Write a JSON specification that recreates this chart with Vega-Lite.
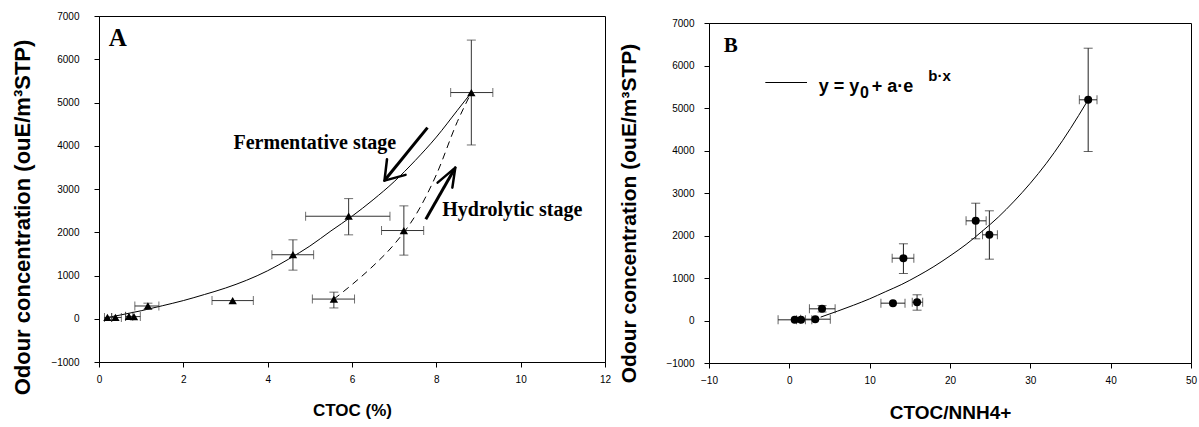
{
  "$schema": "https://vega.github.io/schema/vega-lite/v6.json",
  "background": "white",
  "padding": {"left": 11, "top": 10, "right": 5, "bottom": 0},
  "spacing": 6,
  "config": {
    "view": {"stroke": "black", "strokeWidth": 1},
    "axis": {"grid": false, "domainColor": "black", "tickColor": "black", "tickSize": 5, "labelFont": "Liberation Sans", "labelFontSize": 10, "labelColor": "black", "titleFont": "Liberation Sans", "titleFontSize": 21, "titleFontWeight": "bold", "titleColor": "black", "labelFlush": false, "labelOverlap": false}
  },
  "datasets": {
    "curveA": [{"x":0.12,"y":16},{"x":0.5,"y":85},{"x":1,"y":185},{"x":1.5,"y":300},{"x":2,"y":420},{"x":2.5,"y":560},{"x":3,"y":710},{"x":3.5,"y":890},{"x":4,"y":1110},{"x":4.5,"y":1380},{"x":5,"y":1680},{"x":5.5,"y":2030},{"x":6,"y":2370},{"x":6.5,"y":2750},{"x":7,"y":3170},{"x":7.5,"y":3660},{"x":8,"y":4200},{"x":8.5,"y":4820},{"x":8.83,"y":5230}],
    "dashA": [{"x":5.57,"y":455},{"x":6.0,"y":790},{"x":6.5,"y":1220},{"x":7.0,"y":1720},{"x":7.5,"y":2380},{"x":8.0,"y":3330},{"x":8.5,"y":4560},{"x":8.83,"y":5230}],
    "ptsA": [
      {"x":0.2,"y":30,"xlo":0.13,"xhi":0.3},
      {"x":0.39,"y":30,"xlo":0.3,"xhi":0.53},
      {"x":0.71,"y":55,"xlo":0.63,"xhi":0.8},
      {"x":0.83,"y":50,"xlo":0.63,"xhi":0.98},
      {"x":1.16,"y":295,"xlo":0.85,"xhi":1.42},
      {"x":3.17,"y":420,"xlo":2.68,"xhi":3.66},
      {"x":4.6,"y":1480,"xlo":4.1,"xhi":5.09},
      {"x":5.57,"y":455,"xlo":5.06,"xhi":6.06},
      {"x":5.92,"y":2370,"xlo":4.9,"xhi":6.9},
      {"x":7.23,"y":2040,"xlo":6.7,"xhi":7.7},
      {"x":8.83,"y":5230,"xlo":8.34,"xhi":9.34}
    ],
    "yerrA": [
      {"x":1.16,"ylo":220,"yhi":360},
      {"x":4.6,"ylo":1124,"yhi":1825},
      {"x":5.57,"ylo":250,"yhi":615},
      {"x":5.92,"ylo":1940,"yhi":2778},
      {"x":7.23,"ylo":1471,"yhi":2610},
      {"x":8.83,"ylo":4018,"yhi":6443}
    ],
    "shaftsA": [
      {"x":7.79,"y":4418,"x2":6.8,"y2":3230},
      {"x":7.75,"y":2302,"x2":8.43,"y2":3460}
    ],
    "headsA": [
      {"x":6.77,"y":3194,"x2":6.83,"y2":3688},
      {"x":6.77,"y":3194,"x2":7.27,"y2":3326},
      {"x":8.45,"y":3494,"x2":8.03,"y2":3148},
      {"x":8.45,"y":3494,"x2":8.38,"y2":3032}
    ],
    "stagesA": [
      {"x":3.19,"y":3919,"label":"Fermentative stage"},
      {"x":8.14,"y":2379,"label":"Hydrolytic stage"}
    ],
    "panelA": [{"x":0.23,"y":6305,"label":"A"}],
    "curveB": [{"x":3.9,"y":80},{"x":6,"y":220},{"x":8,"y":360},{"x":10,"y":510},{"x":12,"y":680},{"x":14,"y":850},{"x":16,"y":1050},{"x":18,"y":1270},{"x":20,"y":1520},{"x":22,"y":1790},{"x":24,"y":2100},{"x":26,"y":2430},{"x":28,"y":2810},{"x":30,"y":3230},{"x":32,"y":3700},{"x":34,"y":4230},{"x":36,"y":4820},{"x":37.2,"y":5193}],
    "ptsB": [
      {"x":0.67,"y":16,"xlo":-1.4,"xhi":2.8},
      {"x":1.46,"y":16,"xlo":0.9,"xhi":2.0},
      {"x":3.23,"y":31,"xlo":1.4,"xhi":5.1},
      {"x":4.07,"y":275,"xlo":2.5,"xhi":5.7},
      {"x":12.9,"y":408,"xlo":11.4,"xhi":14.4},
      {"x":14.2,"y":1466,"xlo":12.8,"xhi":15.5},
      {"x":15.9,"y":431,"xlo":15.3,"xhi":16.6},
      {"x":23.2,"y":2345,"xlo":22.0,"xhi":24.5},
      {"x":24.9,"y":2016,"xlo":24.05,"xhi":25.9},
      {"x":37.2,"y":5193,"xlo":36.1,"xhi":38.3}
    ],
    "yerrB": [
      {"x":4.07,"ylo":200,"yhi":350},
      {"x":14.2,"ylo":1106,"yhi":1805},
      {"x":15.9,"ylo":243,"yhi":605},
      {"x":23.2,"ylo":1922,"yhi":2760},
      {"x":24.9,"ylo":1443,"yhi":2581},
      {"x":37.2,"ylo":3976,"yhi":6407}
    ],
    "legLine": [{"x":-2.99,"x2":2.2,"y":5600}],
    "legMain": [
      {"x":3.66,"y":5388,"label":"y = y"},
      {"x":10.27,"y":5388,"label":"+ a·e"}
    ],
    "legSub": [{"x":8.8,"y":5224,"label":"0"}],
    "legSup": [{"x":17.3,"y":5624,"label":"b·x"}],
    "panelB": [{"x":-8.16,"y":6329,"label":"B"}],
    "spacer": [{"k":1}]
  },
  "hconcat": [
    {
      "width": 506,
      "height": 346,
      "layer": [
        {
          "data": {"name": "curveA"},
          "mark": {"type": "line", "color": "black", "strokeWidth": 1, "interpolate": "monotone"},
          "encoding": {
            "x": {"field": "x", "type": "quantitative", "title": "CTOC (%)", "scale": {"domain": [0, 12], "nice": false, "zero": false},
                  "axis": {"values": [0, 2, 4, 6, 8, 10, 12], "labelPadding": 7, "titlePadding": 18, "titleFontSize": 17}},
            "y": {"field": "y", "type": "quantitative", "title": "Odour concentration (ouE/m³STP)", "scale": {"domain": [-1000, 7000], "nice": false, "zero": false},
                  "axis": {"values": [-1000, 0, 1000, 2000, 3000, 4000, 5000, 6000, 7000], "format": "d", "labelPadding": 15, "titlePadding": 16, "titleY": 201, "titleFontSize": 22}}
          }
        },
        {
          "data": {"name": "dashA"},
          "mark": {"type": "line", "color": "black", "strokeWidth": 1, "strokeDash": [7, 5], "interpolate": "monotone"},
          "encoding": {
            "x": {"field": "x", "type": "quantitative", "title": "CTOC (%)"},
            "y": {"field": "y", "type": "quantitative", "title": "Odour concentration (ouE/m³STP)"}
          }
        },
        {
          "data": {"name": "ptsA"},
          "mark": {"type": "rule", "color": "#333", "strokeWidth": 1},
          "encoding": {
            "x": {"field": "xlo", "type": "quantitative", "title": "CTOC (%)"},
            "x2": {"field": "xhi"},
            "y": {"field": "y", "type": "quantitative", "title": "Odour concentration (ouE/m³STP)"}
          }
        },
        {
          "data": {"name": "ptsA"},
          "mark": {"type": "tick", "orient": "vertical", "color": "#333", "size": 9, "thickness": 1},
          "encoding": {
            "x": {"field": "xlo", "type": "quantitative", "title": "CTOC (%)"},
            "y": {"field": "y", "type": "quantitative", "title": "Odour concentration (ouE/m³STP)"}
          }
        },
        {
          "data": {"name": "ptsA"},
          "mark": {"type": "tick", "orient": "vertical", "color": "#333", "size": 9, "thickness": 1},
          "encoding": {
            "x": {"field": "xhi", "type": "quantitative", "title": "CTOC (%)"},
            "y": {"field": "y", "type": "quantitative", "title": "Odour concentration (ouE/m³STP)"}
          }
        },
        {
          "data": {"name": "yerrA"},
          "mark": {"type": "rule", "color": "#333", "strokeWidth": 1},
          "encoding": {
            "x": {"field": "x", "type": "quantitative", "title": "CTOC (%)"},
            "y": {"field": "ylo", "type": "quantitative", "title": "Odour concentration (ouE/m³STP)"},
            "y2": {"field": "yhi"}
          }
        },
        {
          "data": {"name": "yerrA"},
          "mark": {"type": "tick", "orient": "horizontal", "color": "#333", "size": 9, "thickness": 1},
          "encoding": {
            "x": {"field": "x", "type": "quantitative", "title": "CTOC (%)"},
            "y": {"field": "ylo", "type": "quantitative", "title": "Odour concentration (ouE/m³STP)"}
          }
        },
        {
          "data": {"name": "yerrA"},
          "mark": {"type": "tick", "orient": "horizontal", "color": "#333", "size": 9, "thickness": 1},
          "encoding": {
            "x": {"field": "x", "type": "quantitative", "title": "CTOC (%)"},
            "y": {"field": "yhi", "type": "quantitative", "title": "Odour concentration (ouE/m³STP)"}
          }
        },
        {
          "data": {"name": "ptsA"},
          "mark": {"type": "point", "shape": "triangle-up", "filled": true, "color": "black", "opacity": 1, "size": 70},
          "encoding": {
            "x": {"field": "x", "type": "quantitative", "title": "CTOC (%)"},
            "y": {"field": "y", "type": "quantitative", "title": "Odour concentration (ouE/m³STP)"}
          }
        },
        {
          "data": {"name": "shaftsA"},
          "mark": {"type": "rule", "color": "black", "strokeWidth": 3},
          "encoding": {
            "x": {"field": "x", "type": "quantitative", "title": "CTOC (%)"},
            "y": {"field": "y", "type": "quantitative", "title": "Odour concentration (ouE/m³STP)"},
            "x2": {"field": "x2"},
            "y2": {"field": "y2"}
          }
        },
        {
          "data": {"name": "headsA"},
          "mark": {"type": "rule", "color": "black", "strokeWidth": 2.5, "strokeCap": "round"},
          "encoding": {
            "x": {"field": "x", "type": "quantitative", "title": "CTOC (%)"},
            "y": {"field": "y", "type": "quantitative", "title": "Odour concentration (ouE/m³STP)"},
            "x2": {"field": "x2"},
            "y2": {"field": "y2"}
          }
        },
        {
          "data": {"name": "stagesA"},
          "mark": {"type": "text", "align": "left", "baseline": "alphabetic", "font": "Liberation Serif", "fontWeight": "bold", "fontSize": 20, "color": "black"},
          "encoding": {
            "x": {"field": "x", "type": "quantitative", "title": "CTOC (%)"},
            "y": {"field": "y", "type": "quantitative", "title": "Odour concentration (ouE/m³STP)"},
            "text": {"field": "label"}
          }
        },
        {
          "data": {"name": "panelA"},
          "mark": {"type": "text", "align": "left", "baseline": "alphabetic", "font": "Liberation Serif", "fontWeight": "bold", "fontSize": 25, "color": "black"},
          "encoding": {
            "x": {"field": "x", "type": "quantitative", "title": "CTOC (%)"},
            "y": {"field": "y", "type": "quantitative", "title": "Odour concentration (ouE/m³STP)"},
            "text": {"field": "label"}
          }
        }
      ]
    },
    {
      "spacing": 0,
      "vconcat": [
        {
          "width": 482,
          "height": 1,
          "view": {"stroke": null},
          "data": {"name": "spacer"},
          "mark": {"type": "text", "text": "", "fontSize": 1},
          "encoding": {}
        },
        {
          "width": 482,
          "height": 340,
          "layer": [
            {
              "data": {"name": "curveB"},
              "mark": {"type": "line", "color": "black", "strokeWidth": 1, "interpolate": "monotone"},
              "encoding": {
                "x": {"field": "x", "type": "quantitative", "title": "CTOC/NNH4+", "scale": {"domain": [-10, 50], "nice": false, "zero": false},
                      "axis": {"values": [-10, 0, 10, 20, 30, 40, 50], "labelPadding": 7, "titlePadding": 18, "titleFontSize": 19}},
                "y": {"field": "y", "type": "quantitative", "title": "Odour concentration (ouE/m³STP)", "scale": {"domain": [-1000, 7000], "nice": false, "zero": false},
                      "axis": {"values": [-1000, 0, 1000, 2000, 3000, 4000, 5000, 6000, 7000], "format": "d", "labelPadding": 10, "titlePadding": 26, "titleFontSize": 21, "titleY": 190}}
              }
            },
            {
              "data": {"name": "ptsB"},
              "mark": {"type": "rule", "color": "#222", "strokeWidth": 1},
              "encoding": {
                "x": {"field": "xlo", "type": "quantitative", "title": "CTOC/NNH4+"},
                "x2": {"field": "xhi"},
                "y": {"field": "y", "type": "quantitative", "title": "Odour concentration (ouE/m³STP)"}
              }
            },
            {
              "data": {"name": "ptsB"},
              "mark": {"type": "tick", "orient": "vertical", "color": "#222", "size": 9, "thickness": 1},
              "encoding": {
                "x": {"field": "xlo", "type": "quantitative", "title": "CTOC/NNH4+"},
                "y": {"field": "y", "type": "quantitative", "title": "Odour concentration (ouE/m³STP)"}
              }
            },
            {
              "data": {"name": "ptsB"},
              "mark": {"type": "tick", "orient": "vertical", "color": "#222", "size": 9, "thickness": 1},
              "encoding": {
                "x": {"field": "xhi", "type": "quantitative", "title": "CTOC/NNH4+"},
                "y": {"field": "y", "type": "quantitative", "title": "Odour concentration (ouE/m³STP)"}
              }
            },
            {
              "data": {"name": "yerrB"},
              "mark": {"type": "rule", "color": "#222", "strokeWidth": 1},
              "encoding": {
                "x": {"field": "x", "type": "quantitative", "title": "CTOC/NNH4+"},
                "y": {"field": "ylo", "type": "quantitative", "title": "Odour concentration (ouE/m³STP)"},
                "y2": {"field": "yhi"}
              }
            },
            {
              "data": {"name": "yerrB"},
              "mark": {"type": "tick", "orient": "horizontal", "color": "#222", "size": 9, "thickness": 1},
              "encoding": {
                "x": {"field": "x", "type": "quantitative", "title": "CTOC/NNH4+"},
                "y": {"field": "ylo", "type": "quantitative", "title": "Odour concentration (ouE/m³STP)"}
              }
            },
            {
              "data": {"name": "yerrB"},
              "mark": {"type": "tick", "orient": "horizontal", "color": "#222", "size": 9, "thickness": 1},
              "encoding": {
                "x": {"field": "x", "type": "quantitative", "title": "CTOC/NNH4+"},
                "y": {"field": "yhi", "type": "quantitative", "title": "Odour concentration (ouE/m³STP)"}
              }
            },
            {
              "data": {"name": "ptsB"},
              "mark": {"type": "point", "shape": "circle", "filled": true, "color": "black", "opacity": 1, "size": 64},
              "encoding": {
                "x": {"field": "x", "type": "quantitative", "title": "CTOC/NNH4+"},
                "y": {"field": "y", "type": "quantitative", "title": "Odour concentration (ouE/m³STP)"}
              }
            },
            {
              "data": {"name": "legLine"},
              "mark": {"type": "rule", "color": "black", "strokeWidth": 1},
              "encoding": {
                "x": {"field": "x", "type": "quantitative", "title": "CTOC/NNH4+"},
                "x2": {"field": "x2"},
                "y": {"field": "y", "type": "quantitative", "title": "Odour concentration (ouE/m³STP)"}
              }
            },
            {
              "data": {"name": "legMain"},
              "mark": {"type": "text", "align": "left", "baseline": "alphabetic", "font": "Liberation Sans", "fontWeight": "bold", "fontSize": 18, "color": "black"},
              "encoding": {
                "x": {"field": "x", "type": "quantitative", "title": "CTOC/NNH4+"},
                "y": {"field": "y", "type": "quantitative", "title": "Odour concentration (ouE/m³STP)"},
                "text": {"field": "label"}
              }
            },
            {
              "data": {"name": "legSub"},
              "mark": {"type": "text", "align": "left", "baseline": "alphabetic", "font": "Liberation Sans", "fontWeight": "bold", "fontSize": 16, "color": "black"},
              "encoding": {
                "x": {"field": "x", "type": "quantitative", "title": "CTOC/NNH4+"},
                "y": {"field": "y", "type": "quantitative", "title": "Odour concentration (ouE/m³STP)"},
                "text": {"field": "label"}
              }
            },
            {
              "data": {"name": "legSup"},
              "mark": {"type": "text", "align": "left", "baseline": "alphabetic", "font": "Liberation Sans", "fontWeight": "bold", "fontSize": 15, "color": "black"},
              "encoding": {
                "x": {"field": "x", "type": "quantitative", "title": "CTOC/NNH4+"},
                "y": {"field": "y", "type": "quantitative", "title": "Odour concentration (ouE/m³STP)"},
                "text": {"field": "label"}
              }
            },
            {
              "data": {"name": "panelB"},
              "mark": {"type": "text", "align": "left", "baseline": "alphabetic", "font": "Liberation Serif", "fontWeight": "bold", "fontSize": 21, "color": "black"},
              "encoding": {
                "x": {"field": "x", "type": "quantitative", "title": "CTOC/NNH4+"},
                "y": {"field": "y", "type": "quantitative", "title": "Odour concentration (ouE/m³STP)"},
                "text": {"field": "label"}
              }
            }
          ]
        }
      ]
    }
  ]
}
